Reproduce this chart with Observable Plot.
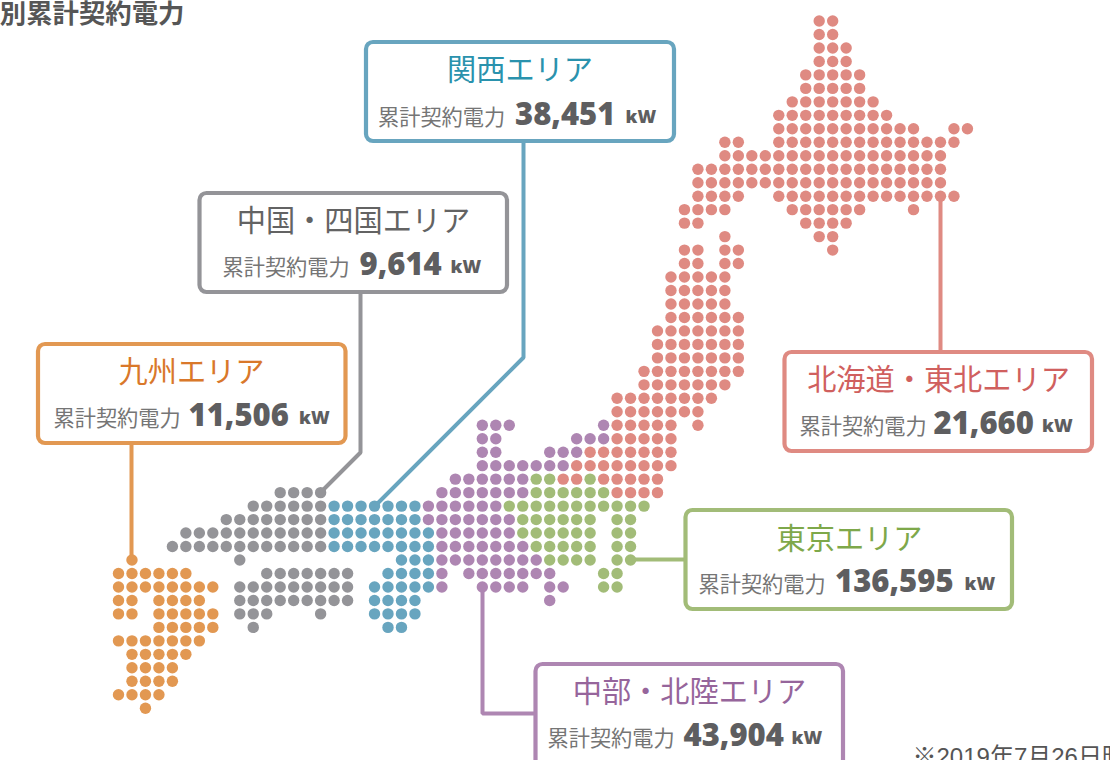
<!DOCTYPE html>
<html lang="ja"><head><meta charset="utf-8">
<script src="https://cdn.jsdelivr.net/npm/d3@7"></script>
<script src="https://cdn.jsdelivr.net/npm/@observablehq/plot@0.6"></script>
<style>
html,body{margin:0;padding:0;background:#fff;overflow:hidden}
svg{display:block}
.unit{letter-spacing:.2px}
</style></head><body><div id="chart"></div>
<script>
// Dot rows per area: [row, firstColumn, lastColumn]
const hokkaidoTohoku = [[0,52,53],[1,52,53],[2,52,54],[3,52,54],[4,51,55],[5,51,55],[6,50,56],[7,49,57],[8,49,59],[8,62,63],[9,45,46],[9,49,62],[10,45,61],[11,43,61],[12,43,61],[13,43,46],[13,49,62],[14,42,45],[14,50,55],[14,59,59],[15,42,43],[15,51,54],[16,45,45],[16,52,53],[17,42,43],[17,45,46],[17,53,53],[18,42,43],[18,45,46],[19,41,45],[20,41,45],[21,41,45],[22,41,46],[23,40,46],[24,40,46],[25,40,46],[26,39,46],[27,39,45],[28,37,44],[29,37,43],[30,37,41],[30,43,43],[31,37,41],[32,35,41],[33,34,41],[34,33,34],[34,36,40],[35,37,40]];
const tokyo = [[34,31,32],[34,35,35],[35,31,36],[36,29,39],[37,30,35],[37,37,38],[38,30,35],[38,37,38],[39,31,35],[39,37,38],[40,32,35],[40,37,38],[41,36,37],[42,36,37]];
const chubuHokuriku = [[30,27,29],[30,36,36],[31,27,28],[31,34,36],[32,27,28],[32,32,34],[33,27,33],[34,25,30],[35,24,30],[36,23,28],[37,23,29],[38,24,29],[39,24,30],[40,24,31],[41,24,24],[41,26,32],[42,24,24],[42,27,30],[42,32,33],[43,32,32]];
const kansai = [[36,16,22],[37,16,22],[38,16,23],[39,16,23],[40,21,23],[41,20,23],[42,19,23],[43,19,22],[44,19,22],[45,20,21]];
const chugokuShikoku = [[35,12,15],[36,10,15],[37,8,15],[38,5,15],[39,4,15],[40,9,9],[41,11,17],[42,9,17],[43,9,17],[44,9,11],[44,15,15],[45,10,10]];
const kyushu = [[40,1,1],[41,0,5],[42,0,7],[43,0,1],[43,3,6],[44,0,1],[44,3,7],[45,3,7],[46,0,6],[47,1,5],[48,1,4],[49,1,4],[50,0,3],[51,2,2]];

const areaNames = ["関西エリア","中国・四国エリア","九州エリア","北海道・東北エリア","東京エリア","中部・北陸エリア"];
const areaPower = ["38,451","9,614","11,506","21,660","136,595","43,904"];
const areaDots = [kansai,chugokuShikoku,kyushu,hokkaidoTohoku,tokyo,chubuHokuriku];
const dotColors = ["#68a5bf","#949498","#e29852","#df8a82","#a2bc78","#ae86b2"];
const titleColors = ["#2a92ad","#636363","#d9782a","#d0605e","#7ea84a","#96659b"];
const rowLabel = "累計契約電力";
const unitLabel = "kW";
const heading = "別累計契約電力";
const footnote = "※2019年7月26日時点";

// Callout layout in page pixels: box, title centre, text line, text starts
const boxLeft = [366,199.5,38,784.5,685.5,535.5];
const boxRight = [674,507,345.5,1092,1012,843];
const boxTop = [42,193,344,352,510,664];
const boxBottom = [141,292,443,451,609,770];
const titleX = [519.5,353,191,938,849,689];
const titleY = [70.5,221,372,380.5,539,692];
const lineY = [115,265,416,423.5,582,736];
const labelX = [377.5,222,53,799,698,547];
const numberX = [514.5,359,188,933,834.5,683];
const unitX = [625,450,298.5,1041.5,964,791];
const leaderX = [[523,523,375],[360,360,320],[131,131],[940,940],[630,685],[482,482,534]];
const leaderY = [[141,357,505],[292,452,492],[443,559],[352,196],[559,559],[586,713,713]];

const gridX = {origin:118,pitch:13.475}, gridY = {origin:20.5,pitch:13.475};
const colOf = px => (px-gridX.origin)/gridX.pitch;
const rowOf = px => (px-gridY.origin)/gridY.pitch;

const dots = areaDots.flatMap((runs,a) => runs.flatMap(([row,c0,c1]) =>
  d3.range(c0,c1+1).map(col => ({col,row,area:areaNames[a]}))));
const callouts = areaNames.map((name,i) => ({name,i,power:areaPower[i]}));
const leaders = leaderX.flatMap((xs,i) => xs.map((x,k) => ({i,x:colOf(x),y:rowOf(leaderY[i][k])})));

const jp = '"Noto Sans CJK JP","Noto Sans",sans-serif';
const numFont = '"Open Sans","Noto Sans CJK JP",sans-serif';

const chart = Plot.plot({
  width:1110, height:760, margin:0,
  style:{background:"#fff",overflow:"hidden"},
  x:{axis:null,domain:[0,63],range:[gridX.origin,gridX.origin+63*gridX.pitch]},
  y:{axis:null,domain:[0,51],range:[gridY.origin,gridY.origin+51*gridY.pitch]},
  color:{domain:areaNames,range:dotColors},
  marks:[
    Plot.line(leaders,{x:"x",y:"y",z:"i",stroke:d=>dotColors[d.i],strokeWidth:4,curve:"linear",strokeLinejoin:"miter"}),
    Plot.dot(dots,{x:"col",y:"row",r:5.7,fill:"area",stroke:"none"}),
    Plot.rect(callouts,{
      x1:d=>colOf(boxLeft[d.i]),x2:d=>colOf(boxRight[d.i]),
      y1:d=>rowOf(boxTop[d.i]),y2:d=>rowOf(boxBottom[d.i]),
      fill:"#fff",stroke:d=>dotColors[d.i],strokeWidth:4.2,rx:7,ry:7}),
    Plot.text(callouts,{x:d=>colOf(titleX[d.i]),y:d=>rowOf(titleY[d.i]),text:"name",
      fill:d=>titleColors[d.i],fontSize:29.2,fontFamily:jp,fontWeight:400,lineAnchor:"middle"}),
    Plot.text(callouts,{x:d=>colOf(labelX[d.i]),y:d=>rowOf(lineY[d.i]+3),text:()=>rowLabel,
      fill:"#757575",fontSize:21.2,fontFamily:jp,textAnchor:"start",lineAnchor:"middle"}),
    Plot.text(callouts,{x:d=>colOf(numberX[d.i]),y:d=>rowOf(lineY[d.i]),text:"power",
      fill:"#5e5e60",fontSize:31,fontWeight:800,fontFamily:numFont,textAnchor:"start",lineAnchor:"middle"}),
    Plot.text(callouts,{x:d=>colOf(unitX[d.i]),y:d=>rowOf(lineY[d.i]+2),text:()=>unitLabel,className:"unit",
      fill:"#5e5e60",fontSize:18,fontWeight:800,fontFamily:numFont,textAnchor:"start",lineAnchor:"middle"}),
    Plot.text([heading],{x:colOf(184),y:rowOf(14),text:d=>d,fill:"#565656",fontSize:26.4,fontWeight:700,
      fontFamily:jp,textAnchor:"end",lineAnchor:"middle"}),
    Plot.text([footnote],{x:colOf(912),y:rowOf(757),text:d=>d,fill:"#555",fontSize:24,
      fontFamily:'"Liberation Sans","Noto Sans CJK JP",sans-serif',textAnchor:"start",lineAnchor:"middle"})
  ]
});
document.getElementById("chart").appendChild(chart);
</script></body></html>
